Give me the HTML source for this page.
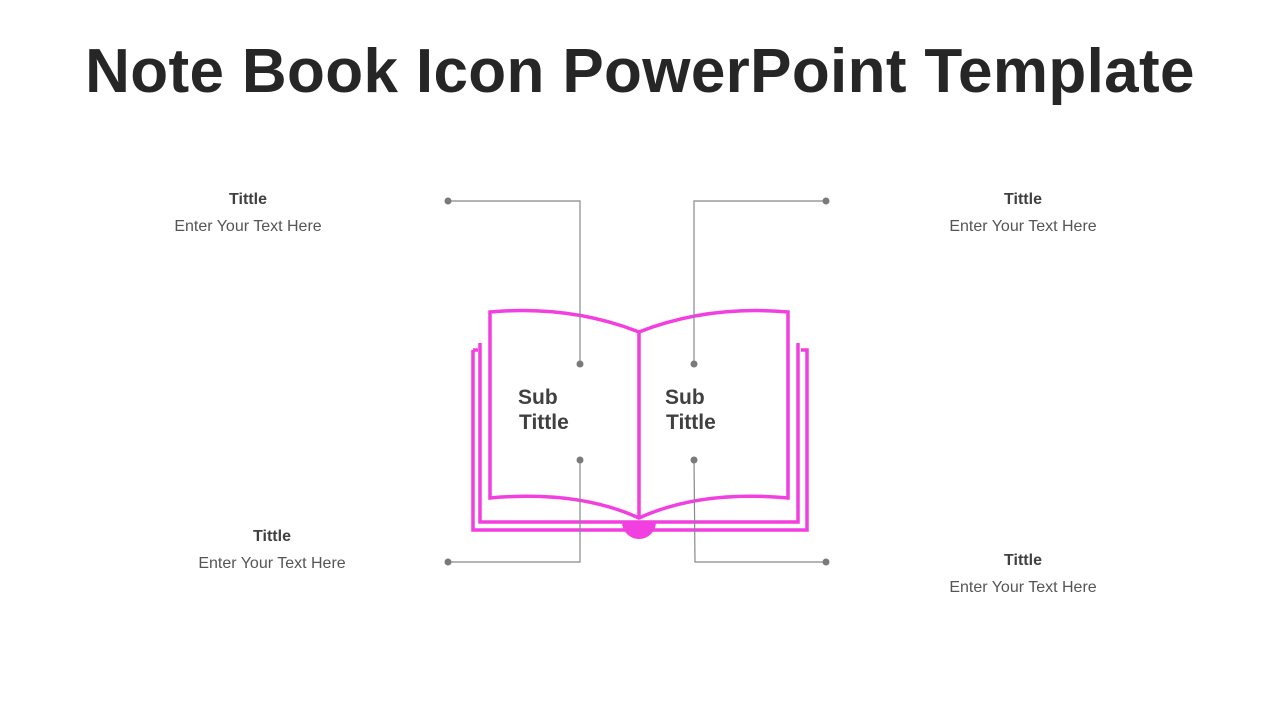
<!DOCTYPE html>
<html><head><meta charset="utf-8"><style>
body{margin:0;width:1280px;height:720px;background:#fff;position:relative;overflow:hidden;font-family:"Liberation Sans",Arial,sans-serif}
h1{position:absolute;top:36px;left:0;width:1280px;text-align:center;margin:0;font-size:62px;font-weight:bold;color:#262626;letter-spacing:0.35px}
.t{position:absolute;width:240px;text-align:center;color:#404040}
.t b{display:block;font-size:16px;margin-bottom:9px}
.t span{font-size:16px;color:#555}
.s{position:absolute;font-size:21px;font-weight:bold;color:#404040;line-height:25px}
</style></head><body>
<h1>Note Book Icon PowerPoint Template</h1>
<svg width="1280" height="720" style="position:absolute;left:0;top:0">
<g fill="none" stroke="#f23fe0" stroke-width="3.5">
<polyline points="480,343 480,522 639,522"/>
<polyline points="798,343 798,522 639,522"/>
<polyline points="473,350 473,530 807,530 807,350 801,350"/>
<line x1="473" y1="350" x2="478" y2="350"/>
<path d="M490,312 Q570,305 639,332 Q708,305 788,312 L788,498 Q700,490 639,518 Q578,490 490,498 Z" fill="#fff"/>
<line x1="639" y1="332" x2="639" y2="518"/>
</g>
<path d="M622,522 A17,17 0 0 0 656,522 Z" fill="#f23fe0"/>
<g stroke="#888" stroke-width="1.2" fill="none">
<polyline points="448,201 580,201 580,364"/>
<polyline points="826,201 694,201 694,364"/>
<polyline points="448,562 580,562 580,460"/>
<polyline points="826,562 695,562 694,460"/>
</g>
<g fill="#7a7a7a">
<circle cx="448" cy="201" r="3.5"/><circle cx="580" cy="364" r="3.5"/>
<circle cx="826" cy="201" r="3.5"/><circle cx="694" cy="364" r="3.5"/>
<circle cx="448" cy="562" r="3.5"/><circle cx="580" cy="460" r="3.5"/>
<circle cx="826" cy="562" r="3.5"/><circle cx="694" cy="460" r="3.5"/>
</g>
</svg>
<div class="t" style="left:128px;top:191px"><b>Tittle</b><span>Enter Your Text Here</span></div>
<div class="t" style="left:903px;top:191px"><b>Tittle</b><span>Enter Your Text Here</span></div>
<div class="t" style="left:152px;top:528px"><b>Tittle</b><span>Enter Your Text Here</span></div>
<div class="t" style="left:903px;top:552px"><b>Tittle</b><span>Enter Your Text Here</span></div>
<div class="s" style="left:518px;top:385px">Sub<br><span style="padding-left:1px">Tittle</span></div>
<div class="s" style="left:665px;top:385px">Sub<br><span style="padding-left:1px">Tittle</span></div>
</body></html>
